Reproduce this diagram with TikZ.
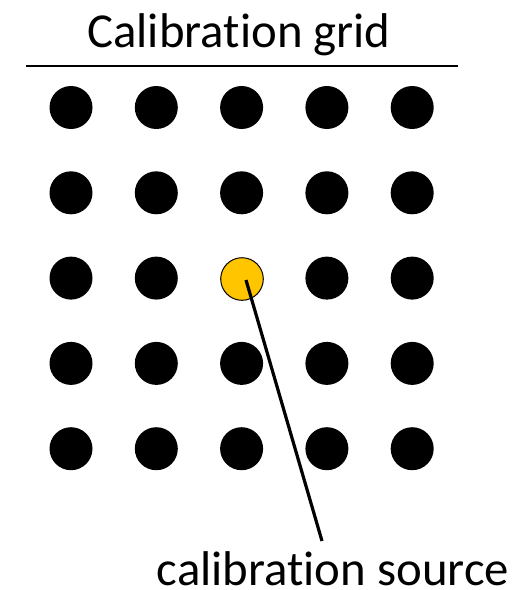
\documentclass[tikz,border=0pt]{standalone}
\usepackage{fontspec}
\setmainfont{Carlito}[RawFeature=-liga]
\definecolor{srcyellow}{HTML}{FFC600}
\tikzset{
  dot/.style={circle, fill=black, inner sep=0pt, minimum size=21.5pt},
  srcdot/.style={circle, draw=black, line width=0.5pt, fill=srcyellow, inner sep=0pt, minimum size=21.3pt},
  bigtext/.style={anchor=base, inner sep=0pt, text depth=0pt, font=\fontsize{24.4}{29}\selectfont},
}

\begin{document}
\begin{tikzpicture}[x=0.5pt, y=-0.5pt]
  \useasboundingbox (0,0) rectangle (519,590);
  % title and rule below it
  \node[bigtext] (title) at (239,47) {Calibration grid};
  \coordinate (L) at (26,66);
  \coordinate (R) at (458,66);
  \draw[line width=1pt] (L) -- (R);

  % 5x5 grid, the middle one is the source
  \foreach \i in {0,...,4} {
    \foreach \j in {0,...,4} {
      \ifnum\i\j=22 \else
        \node[dot] (d\i\j) at (71+85.3*\i, 107.5+85.3*\j) {};
      \fi
    }
  }
  \node[srcdot] (src) at (242,279) {};

  % label
  \node[bigtext] (lbl) at (333,585) {calibration source};
  \coordinate (tip) at (322,541);
  \draw[line width=1.6pt] ([shift={(4,1)}]src.center) -- (tip);
\end{tikzpicture}
\end{document}
